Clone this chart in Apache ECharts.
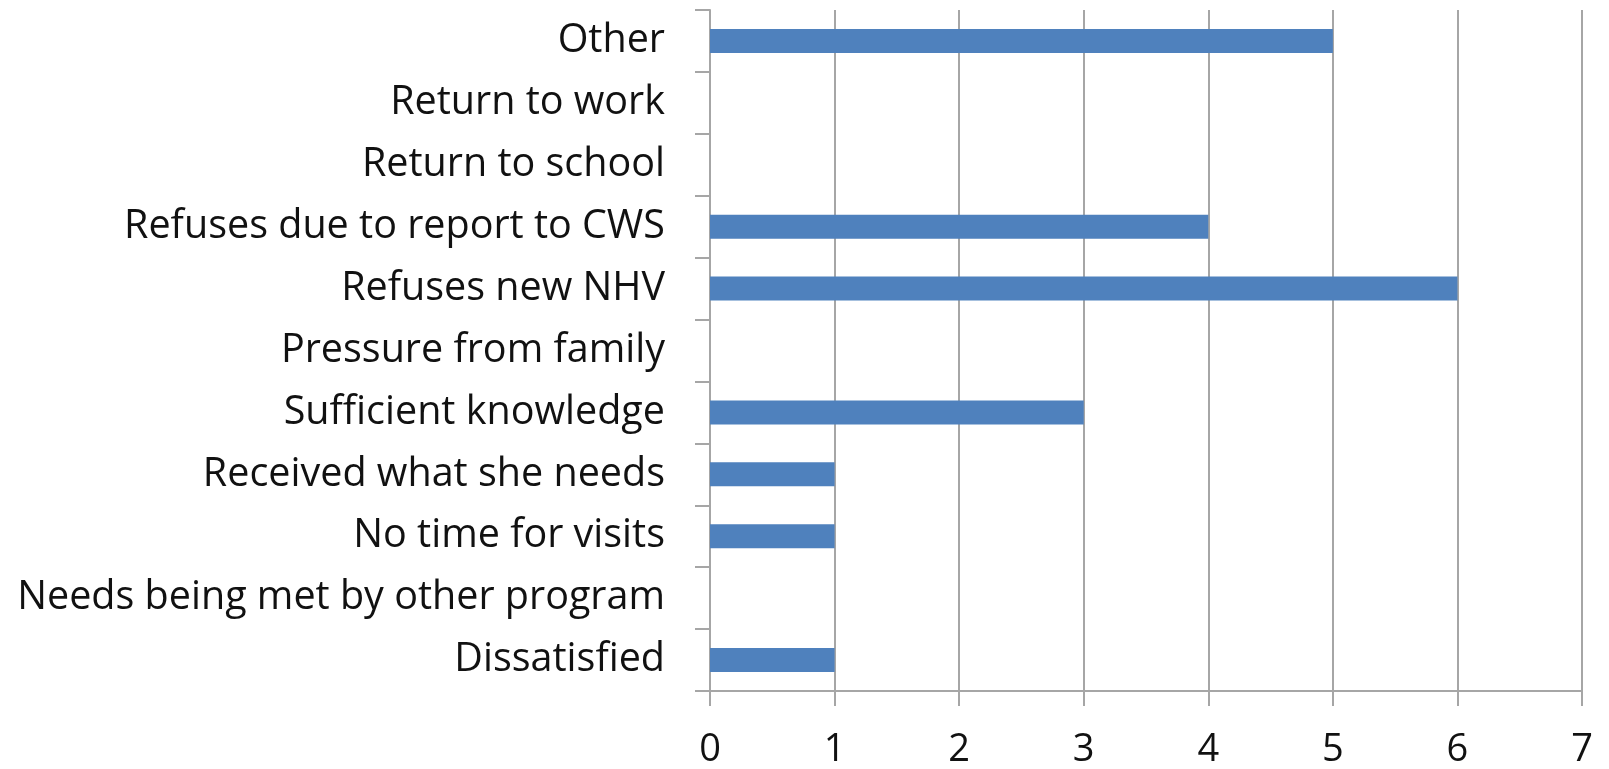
<!DOCTYPE html>
<html>
<head>
<meta charset="utf-8">
<script src="https://cdn.jsdelivr.net/npm/echarts@6/dist/echarts.min.js"></script>
<style>
  html, body { margin: 0; padding: 0; background: #fff; }
  #chart { width: 1609px; height: 769px; }
</style>
</head>
<body>
<div id="chart"></div>
<script>
// categories listed bottom to top (category axis runs upward)
const categories = [
  'Dissatisfied',
  'Needs being met by other program',
  'No time for visits',
  'Received what she needs',
  'Sufficient knowledge',
  'Pressure from family',
  'Refuses new NHV',
  'Refuses due to report to CWS',
  'Return to school',
  'Return to work',
  'Other'
];
const counts = [1, 0, 1, 1, 3, 0, 6, 4, 0, 0, 5];
const xTicks = [0, 1, 2, 3, 4, 5, 6, 7];

const chart = echarts.init(document.getElementById('chart'));

const lineGray = '#a6a6a6';
const font = '"Open Sans", Lato, sans-serif';

const option = {
  animation: false,
  grid: {
    left: 710,
    right: 27,
    top: 10,
    bottom: 77,
    containLabel: false
  },
  xAxis: {
    type: 'value',
    min: xTicks[0],
    max: xTicks[xTicks.length - 1],
    interval: 1,
    axisLine: { show: true, lineStyle: { color: lineGray, width: 2 } },
    axisTick: { show: true, length: 15, lineStyle: { color: lineGray, width: 2 } },
    axisLabel: {
      margin: 40,
      color: '#111',
      fontSize: 38,
      fontFamily: font
    },
    splitLine: { show: true, lineStyle: { color: lineGray, width: 2 } }
  },
  yAxis: {
    type: 'category',
    data: categories,
    axisLine: { show: true, lineStyle: { color: lineGray, width: 2 } },
    axisTick: { show: true, length: 15, lineStyle: { color: lineGray, width: 2 } },
    axisLabel: {
      margin: 45,
      color: '#111',
      fontSize: 39.5,
      fontFamily: font
    },
    splitLine: { show: false }
  },
  series: [{
    type: 'bar',
    data: counts,
    barWidth: 24,
    itemStyle: { color: '#4f81bd' }
  }]
};

chart.setOption(option);
</script>
</body>
</html>
